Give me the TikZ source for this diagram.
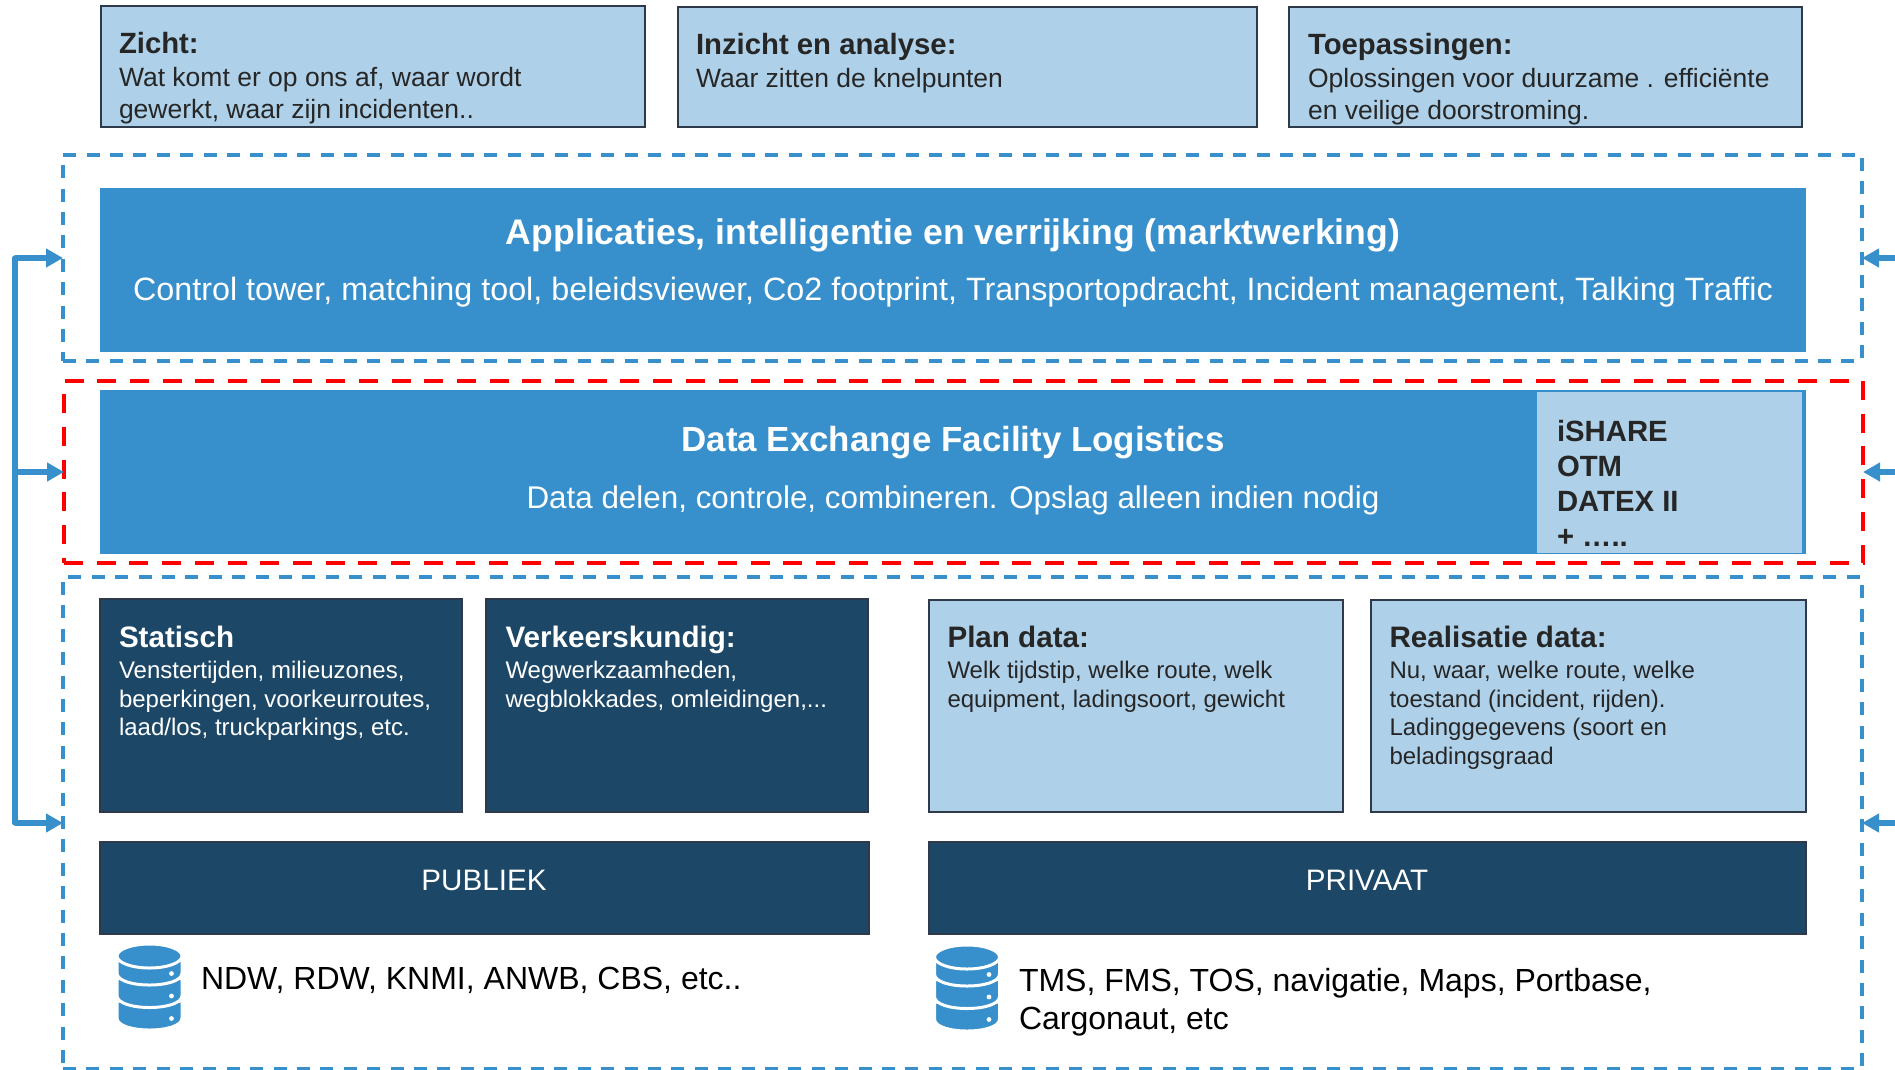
\documentclass[tikz,border=0pt]{standalone}
\usepackage{fontspec}
\setmainfont{Liberation Sans}
\usetikzlibrary{arrows.meta}
\definecolor{lightblue}{HTML}{AED1E9}
\definecolor{midblue}{HTML}{378FCB}
\definecolor{darkblue}{HTML}{1C4766}
\definecolor{edgegrey}{HTML}{2E3A4A}
\definecolor{inkgrey}{HTML}{262626}
\tikzset{
  every node/.style={outer sep=0pt},
  lightbox/.style={draw=edgegrey,line width=1.6pt,fill=lightblue,anchor=north west,inner sep=0pt},
  darkbox/.style={draw=edgegrey,line width=1.2pt,fill=darkblue,anchor=north west,inner sep=0pt},
  midbox/.style={fill=midblue,anchor=north west,inner sep=0pt},
  frameblue/.style={draw=midblue,line width=3.2pt,dash pattern=on 13pt off 10.4pt,anchor=north west,inner sep=0pt},
  framered/.style={draw=red,line width=4.6pt,dash pattern=on 19pt off 13.7pt,anchor=north west,inner sep=0pt},
  topline/.style={anchor=north west,align=left,inner sep=0pt,text=inkgrey,font=\fontsize{26.5}{31.5}\selectfont},
  lowline/.style={anchor=north west,align=left,inner sep=0pt,font=\fontsize{24}{28.5}\selectfont},
  busline/.style={draw=midblue,line width=5.4pt},
  busarrow/.style={busline,-{Triangle[length=17pt,width=18pt]}},
  dbicon/.pic={
    \foreach \cy in {45,22.5,0}{
      \path[fill=midblue,draw=white,line width=3pt] (-32.5,\cy) -- (-32.5,\cy+17) .. controls (-32.5,\cy+33) and (32.5,\cy+33) .. (32.5,\cy+17) -- (32.5,\cy) -- cycle;
      \fill[white] (22,\cy+17.5) circle (2.4);
    }
    \path[fill=midblue,draw=white,line width=3pt] (0,0) ellipse [x radius=32.5,y radius=12];
  }
}
\begin{document}
\begin{tikzpicture}[x=1pt,y=-1pt]
\useasboundingbox (0,0) rectangle (1895,1069);
\node[frameblue,minimum width=1799,minimum height=206] (frameapp) at (63,155) {};
\node[framered,minimum width=1799,minimum height=182] (framelog) at (64,381) {};
\node[frameblue,minimum width=1799,minimum height=492] (framesrc) at (63,577) {};

\node[lightbox,minimum width=544,minimum height=121] (zicht) at (101,6) {};
\node[topline] (zichttext) at (119,32) {{\fontsize{29.3}{29}\selectfont\bfseries Zicht:}\\[2pt]Wat komt er op ons af, waar wordt\\gewerkt, waar zijn incidenten..};
\node[lightbox,minimum width=579,minimum height=120] (inzicht) at (678,7) {};
\node[topline] (inzichttext) at (696,33) {{\fontsize{29.3}{29}\selectfont\bfseries Inzicht en analyse:}\\[2pt]Waar zitten de knelpunten};
\node[lightbox,minimum width=513,minimum height=120] (toepassing) at (1289,7) {};
\node[topline] (toepassingtext) at (1308,33) {{\fontsize{29.3}{29}\selectfont\bfseries Toepassingen:}\\[2pt]Oplossingen voor duurzame . efficiënte\\en veilige doorstroming.};

\node[midbox,minimum width=1706,minimum height=164] (app) at (100,188) {};
\node[text=white,font=\fontsize{35.6}{35}\selectfont\bfseries] (apptitle) at (953,235) {Applicaties, intelligentie en verrijking (marktwerking)};
\node[text=white,font=\fontsize{32.3}{35}\selectfont] (appsub) at (953,292) {Control tower, matching tool, beleidsviewer, Co2 footprint, Transportopdracht, Incident management, Talking Traffic};

\node[midbox,minimum width=1706,minimum height=164] (log) at (100,390) {};
\node[text=white,font=\fontsize{34.9}{35}\selectfont\bfseries] (logtitle) at (953,443) {Data Exchange Facility Logistics};
\node[text=white,font=\fontsize{31.4}{35}\selectfont] (logsub) at (953,500) {Data delen, controle, combineren. Opslag alleen indien nodig};
\node[fill=lightblue,anchor=north west,inner sep=0pt,minimum width=265,minimum height=161] (std) at (1537,392) {};
\node[anchor=north west,align=left,inner sep=0pt,text=inkgrey,font=\fontsize{29.3}{35}\selectfont\bfseries] (stdtext) at (1557,420) {iSHARE\\OTM\\DATEX II\\+ …..};

\node[darkbox,minimum width=362,minimum height=213] (statisch) at (100,599) {};
\node[lowline,text=white] (statischtext) at (119,626) {{\fontsize{29.6}{29}\selectfont\bfseries Statisch}\\[3pt]Venstertijden, milieuzones,\\beperkingen, voorkeurroutes,\\laad/los, truckparkings, etc.};
\node[darkbox,minimum width=382,minimum height=213] (verkeer) at (486,599) {};
\node[lowline,text=white] (verkeertext) at (505.5,626) {{\fontsize{29.6}{29}\selectfont\bfseries Verkeerskundig:}\\[3pt]Wegwerkzaamheden,\\wegblokkades, omleidingen,...};
\node[lightbox,minimum width=414,minimum height=212] (plan) at (929,600) {};
\node[lowline,text=inkgrey] (plantext) at (947.5,626) {{\fontsize{29.6}{29}\selectfont\bfseries Plan data:}\\[3pt]Welk tijdstip, welke route, welk\\equipment, ladingsoort, gewicht};
\node[lightbox,minimum width=435,minimum height=212] (real) at (1371,600) {};
\node[lowline,text=inkgrey] (realtext) at (1389.5,626) {{\fontsize{29.6}{29}\selectfont\bfseries Realisatie data:}\\[3pt]Nu, waar, welke route, welke\\toestand (incident, rijden).\\Ladinggegevens (soort en\\beladingsgraad};

\node[darkbox,minimum width=769,minimum height=92] (publiek) at (100,842) {};
\node[text=white,font=\fontsize{29.6}{32}\selectfont] (publiektext) at (484,880) {PUBLIEK};
\node[darkbox,minimum width=877,minimum height=92] (privaat) at (929,842) {};
\node[text=white,font=\fontsize{29.6}{32}\selectfont] (privaattext) at (1367,880) {PRIVAAT};

\pic at (149.5,956) {dbicon};
\pic at (967,957) {dbicon};
\node[anchor=north west,inner sep=0pt,font=\fontsize{32}{38}\selectfont] (pubsrc) at (201,967) {NDW, RDW, KNMI, ANWB, CBS, etc..};
\node[anchor=north west,align=left,inner sep=0pt,font=\fontsize{32}{38}\selectfont] (privsrc) at (1019,968) {TMS, FMS, TOS, navigatie, Maps, Portbase,\\Cargonaut, etc};

\coordinate (bustop) at (15,258);
\coordinate (busmid) at (15,472);
\coordinate (busbot) at (15,823);
\coordinate (rightapp) at (1895,258);
\coordinate (rightlog) at (1895,472);
\coordinate (rightsrc) at (1895,823);
\draw[busline,line cap=round] (bustop) -- (busbot);
\draw[busarrow] (bustop) -- (frameapp.west);
\draw[busarrow] (busmid) -- (framelog.west);
\draw[busarrow] (busbot) -- (framesrc.west);
\draw[busarrow] (rightapp) -- (frameapp.east);
\draw[busarrow] (rightlog) -- (framelog.east);
\draw[busarrow] (rightsrc) -- (framesrc.east);
\end{tikzpicture}
\end{document}
